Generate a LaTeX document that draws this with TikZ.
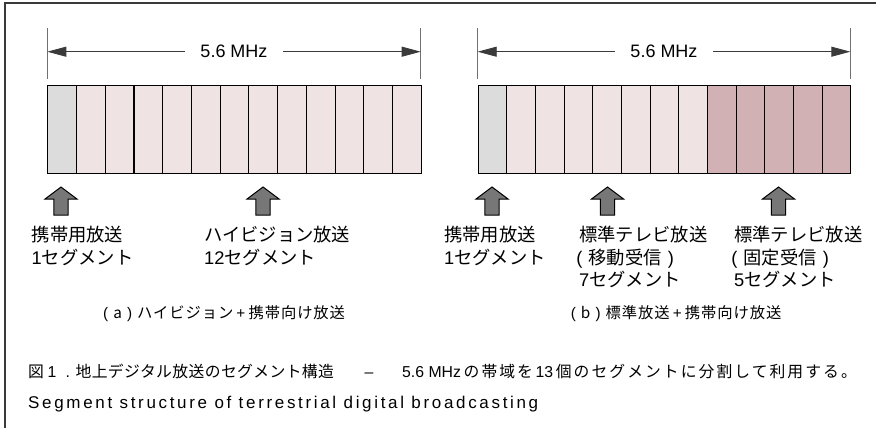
\documentclass[tikz,border=0pt]{standalone}
\usepackage{fontspec}
\setmainfont{Liberation Sans}
\newfontfamily\jp{Noto Sans CJK JP}
\usetikzlibrary{arrows.meta}
\definecolor{seggray}{HTML}{DCDCDC}
\definecolor{segpink}{HTML}{EFE3E3}
\definecolor{segrose}{HTML}{D1B1B3}
\definecolor{arrowgray}{HTML}{777777}
\definecolor{framegray}{HTML}{3A3A3A}
\definecolor{tickgray}{HTML}{707070}
\newcommand\fw[1]{\makebox[1em][c]{\rmfamily #1}}
\tikzset{
  segbox/.style={draw=black, line width=1.1pt, minimum width=28.72pt, minimum height=87.5pt, anchor=north west, inner sep=0pt},
  dimline/.style={draw=framegray, line width=0.9pt, {Triangle[length=19pt,width=10pt]}-{Triangle[length=19pt,width=10pt]}},
  tickline/.style={draw=tickgray, line width=0.9pt},
  dimlabel/.style={fill=white, inner xsep=15pt, inner ysep=2pt, font=\fontsize{18}{20}\selectfont},
  lbl/.style={anchor=base west, inner sep=0pt, font=\jp\fontsize{18.3}{22}\selectfont},
  sublbl/.style={anchor=base, inner sep=0pt, font=\jp\addfontfeatures{LetterSpace=6}\fontsize{15.3}{18}\selectfont},
  caplbl/.style={anchor=base west, inner sep=0pt, font=\jp\fontsize{15.8}{20}\selectfont},
  uparrow/.pic={\draw[fill=arrowgray, draw=black, line width=1pt, line join=miter]
     (0,0) -- (16,12) -- (7.2,12) -- (7.2,28) -- (-7.2,28) -- (-7.2,12) -- (-16,12) -- cycle;}
}
\begin{document}
\begin{tikzpicture}[x=1pt,y=-1pt]
\useasboundingbox (0,0) rectangle (876,428);
\draw[framegray, line width=1.3pt] (5,428) -- (5,3) -- (876,3);

% ---------- (a) ----------
\foreach \i in {0,...,12}{
  \ifnum\i=0 \def\segcol{seggray}\else\def\segcol{segpink}\fi
  \node[segbox, fill=\segcol] (a\i) at (47.3+28.72*\i,85) {};
}
\coordinate (aLt) at (47.3,28);  \coordinate (aLb) at (47.3,79);
\coordinate (aRt) at (420.7,28); \coordinate (aRb) at (420.7,79);
\draw[tickline] (aLt) -- (aLb);
\draw[tickline] (aRt) -- (aRb);
\coordinate (aL) at (47.3,51.7); \coordinate (aR) at (420.7,51.7);
\draw[dimline] (aL) -- (aR) node[dimlabel, midway] (aW) {5.6 MHz};

\pic at (61,187) {uparrow};
\pic at (263,187) {uparrow};
\node[lbl] (a1l1) at (31.5,241.5) {携帯用放送};
\node[lbl] (a1l2) at (31.5,264) {{\rmfamily 1}セグメント};
\node[lbl] (a2l1) at (204,241.5) {ハイビジョン放送};
\node[lbl] (a2l2) at (204,264) {{\rmfamily 12}セグメント};
\node[sublbl] (acap) at (221.5,318.7) {\fw{(}a\fw{)}ハイビジョン\fw{+}携帯向け放送};

% ---------- (b) ----------
\foreach \i in {0,...,12}{
  \ifnum\i=0 \def\segcol{seggray}\else
    \ifnum\i<8 \def\segcol{segpink}\else\def\segcol{segrose}\fi\fi
  \node[segbox, fill=\segcol] (b\i) at (477.7+28.66*\i,85) {};
}
\coordinate (bLt) at (477.7,28);  \coordinate (bLb) at (477.7,79);
\coordinate (bRt) at (850.3,28); \coordinate (bRb) at (850.3,79);
\draw[tickline] (bLt) -- (bLb);
\draw[tickline] (bRt) -- (bRb);
\coordinate (bL) at (477.7,51.7); \coordinate (bR) at (850.3,51.7);
\draw[dimline] (bL) -- (bR) node[dimlabel, midway] (bW) {5.6 MHz};

\pic at (492,187) {uparrow};
\pic at (607.5,187) {uparrow};
\pic at (778.5,187) {uparrow};
\node[lbl] (b1l1) at (444,241.5) {携帯用放送};
\node[lbl] (b1l2) at (444,264) {{\rmfamily 1}セグメント};
\node[lbl] (b2l1) at (579,241.5) {標準テレビ放送};
\node[lbl] (b2l2) at (570,264) {\fw{(}移動受信\fw{)}};
\node[lbl] (b2l3) at (579,286.5) {{\rmfamily 7}セグメント};
\node[lbl] (b3l1) at (734,241.5) {標準テレビ放送};
\node[lbl] (b3l2) at (725,264) {\fw{(}固定受信\fw{)}};
\node[lbl] (b3l3) at (734,286.5) {{\rmfamily 5}セグメント};
\node[sublbl] (bcap) at (673.5,318.7) {\fw{(}b\fw{)}標準放送\fw{+}携帯向け放送};

% ---------- caption ----------
\node[caplbl, font=\jp\addfontfeatures{LetterSpace=2.5}\fontsize{15.8}{20}\selectfont] (cap1a) at (28,377) {図\fw{1}\fw{.}地上デジタル放送のセグメント構造};
\node[caplbl, anchor=base] (cap1b) at (369,377) {{\rmfamily –}};
\node[caplbl, font=\jp\addfontfeatures{LetterSpace=13}\fontsize{15.8}{20}\selectfont] (cap1c) at (402,377) {{\rmfamily 5.6 MHz}\,の帯域を\,{\rmfamily 13}\,個のセグメントに分割して利用する。};
\node[anchor=base west, inner sep=0pt, font=\addfontfeatures{LetterSpace=15.7}\fontsize{17}{20}\selectfont] (cap2) at (28,408) {Segment structure of terrestrial digital broadcasting};
\end{tikzpicture}
\end{document}
